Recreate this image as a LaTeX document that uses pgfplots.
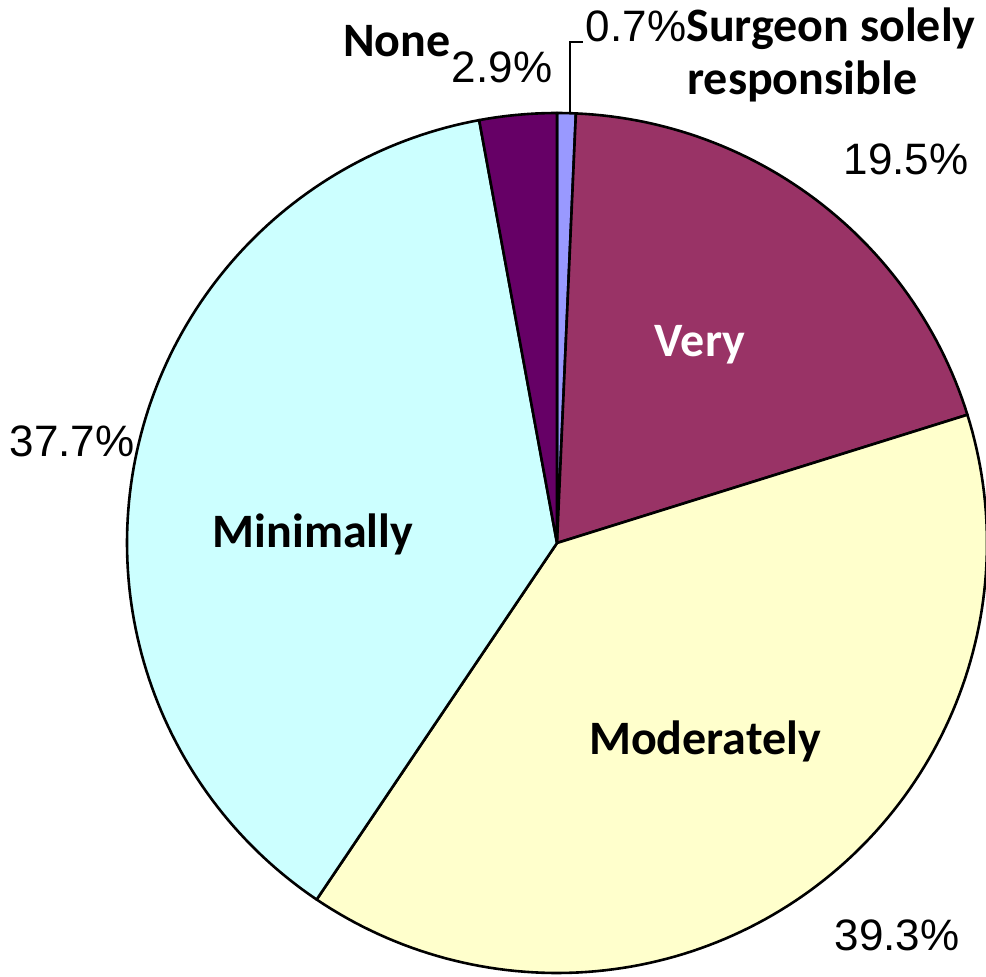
\documentclass[border=0pt]{standalone}
\usepackage{pgfplots}
\pgfplotsset{compat=1.18}
\usepackage{fontspec}
\setmainfont{Liberation Sans}
\newfontfamily\labfont{Carlito}
\definecolor{cSurg}{HTML}{9999FF}
\definecolor{cVery}{HTML}{993366}
\definecolor{cMod}{HTML}{FFFFCC}
\definecolor{cMin}{HTML}{CCFFFF}
\definecolor{cNone}{HTML}{660066}
% data (percent)
\def\vSurg{0.7}
\def\vVery{19.5}
\def\vMod{39.3}
\def\vMin{37.7}
\def\vNone{2.9}
\pgfmathsetmacro\tot{\vSurg+\vVery+\vMod+\vMin+\vNone}
\pgfmathsetmacro\aA{90}
\pgfmathsetmacro\aB{\aA-360*\vSurg/\tot}
\pgfmathsetmacro\aC{\aB-360*\vVery/\tot}
\pgfmathsetmacro\aD{\aC-360*\vMod/\tot}
\pgfmathsetmacro\aE{\aD-360*\vMin/\tot}
\pgfmathsetmacro\aF{\aE-360*\vNone/\tot}
\def\cx{557}
\def\cy{433}
\def\rr{430}
\begin{document}
\begin{tikzpicture}
\useasboundingbox (0,0) rectangle (493pt,488pt);
\begin{axis}[at={(0,0)},anchor=south west,scale only axis,width=493pt,height=488pt,
  xmin=0,xmax=986,ymin=0,ymax=976,hide axis,clip=false]
\addplot[fill=cSurg,draw=black,line width=1.3pt,line join=round,domain=\aB:\aA,samples=5]
  ({\cx+\rr*cos(x)},{\cy+\rr*sin(x)}) -- (axis cs:\cx,\cy) -- cycle;
\addplot[fill=cVery,draw=black,line width=1.3pt,line join=round,domain=\aC:\aB,samples=60]
  ({\cx+\rr*cos(x)},{\cy+\rr*sin(x)}) -- (axis cs:\cx,\cy) -- cycle;
\addplot[fill=cMod,draw=black,line width=1.3pt,line join=round,domain=\aD:\aC,samples=120]
  ({\cx+\rr*cos(x)},{\cy+\rr*sin(x)}) -- (axis cs:\cx,\cy) -- cycle;
\addplot[fill=cMin,draw=black,line width=1.3pt,line join=round,domain=\aE:\aD,samples=120]
  ({\cx+\rr*cos(x)},{\cy+\rr*sin(x)}) -- (axis cs:\cx,\cy) -- cycle;
\addplot[fill=cNone,draw=black,line width=1.3pt,line join=round,domain=\aF:\aE,samples=12]
  ({\cx+\rr*cos(x)},{\cy+\rr*sin(x)}) -- (axis cs:\cx,\cy) -- cycle;
% leader line
\addplot[black,line width=0.6pt] coordinates {(570,864) (570,934) (583,934)};
% percentages
\node[anchor=base,font=\fontsize{22}{26}\selectfont] at (axis cs:502,893) {2.9\%};
\node[anchor=base,font=\fontsize{22}{26}\selectfont] at (axis cs:636,934) {0.7\%};
\node[anchor=base,font=\fontsize{22}{26}\selectfont] at (axis cs:906,801) {19.5\%};
\node[anchor=base,font=\fontsize{22}{26}\selectfont] at (axis cs:72,519) {37.7\%};
\node[anchor=base,font=\fontsize{22}{26}\selectfont] at (axis cs:897,26) {39.3\%};
% category labels
\node[anchor=base,font=\labfont\bfseries\fontsize{24}{27}\selectfont] at (axis cs:397,919) {None};
\node[anchor=base west,inner sep=0pt,font=\labfont\bfseries\fontsize{24}{27}\selectfont] at (axis cs:686,934) {Surgeon solely};
\node[anchor=base west,inner sep=0pt,font=\labfont\bfseries\fontsize{24}{27}\selectfont] at (axis cs:687,881) {responsible};
\node[anchor=base,text=white,font=\labfont\bfseries\fontsize{24}{27}\selectfont] at (axis cs:700,619) {Very};
\node[anchor=base,font=\labfont\bfseries\fontsize{24}{27}\selectfont] at (axis cs:313,428) {Minimally};
\node[anchor=base,font=\labfont\bfseries\fontsize{24}{27}\selectfont] at (axis cs:705,221) {Moderately};
\end{axis}
\end{tikzpicture}
\end{document}
